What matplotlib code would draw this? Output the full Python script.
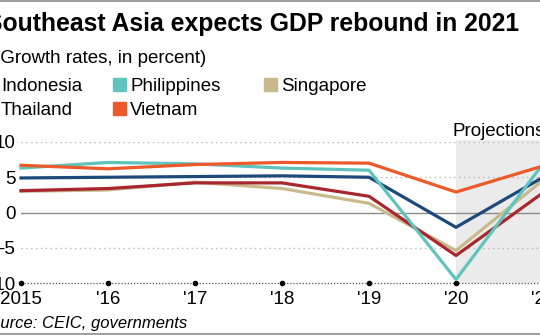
import numpy as np
import matplotlib.pyplot as plt
from matplotlib.patches import Rectangle
from matplotlib.lines import Line2D

plt.rcParams['font.family'] = ['Liberation Sans', 'DejaVu Sans']

# data (GDP growth, percent)
years = [2015, 2016, 2017, 2018, 2019, 2020, 2021]
year_labels = ['2015', "'16", "'17", "'18", "'19", "'20", "'21"]
indonesia = [4.9, 5.0, 5.1, 5.2, 5.0, -2.1, 5.0]
philippines = [6.3, 7.1, 6.9, 6.3, 6.0, -9.5, 6.9]
singapore = [3.0, 3.2, 4.3, 3.4, 1.3, -5.4, 4.6]
thailand = [3.1, 3.4, 4.2, 4.2, 2.3, -6.1, 2.8]
vietnam = [6.7, 6.2, 6.8, 7.1, 7.0, 2.9, 6.6]
yticks = [-10, -5, 0, 5, 10]

c_ind = '#1d4a7a'
c_phi = '#5ec4bc'
c_sin = '#c9ba8e'
c_tha = '#a8272f'
c_vie = '#ec5a2b'

W, H = 540, 335
fig = plt.figure(figsize=(W / 100, H / 100), dpi=100)

def fx(x):
    return x / W

def fy(y):
    return 1 - y / H

# axes placed so 2015 sits at x=21px, 2021 at 543px, +10 at 142px, -10 at 283px
ax = fig.add_axes([fx(21), fy(283), (543 - 21) / W, (283 - 142) / H])
ax.set_xlim(2015, 2021)
ax.set_ylim(-10, 10)
for s in ax.spines.values():
    s.set_visible(False)

# projections shading
ax.add_patch(Rectangle((2020, -10), 1.2, 20.3, color='#ebebeb', lw=0, zorder=0, clip_on=False))

for v in [10, 5, -5]:
    ax.axhline(v, color='#b5b5b5', lw=1, ls=(0, (1, 2.5)), zorder=1)
ax.axhline(0, color='#8a8a8a', lw=1, zorder=1)
ax.axhline(-10, color='#555555', lw=0.9, ls=(0, (1, 1.5)), zorder=1, clip_on=False)
ax.plot(years, [-10] * len(years), 'o', color='black', ms=3, zorder=3, clip_on=False)

lw = 2.3
ax.plot(years, singapore, color=c_sin, lw=lw, zorder=4, clip_on=False)
ax.plot(years, thailand, color=c_tha, lw=lw, zorder=5, clip_on=False)
ax.plot(years, indonesia, color=c_ind, lw=lw, zorder=6, clip_on=False)
ax.plot(years, philippines, color=c_phi, lw=lw, zorder=7, clip_on=False)
ax.plot(years, vietnam, color=c_vie, lw=lw, zorder=8, clip_on=False)

ax.set_xticks(years)
ax.set_xticklabels(year_labels, fontsize=13.5)
ax.set_yticks(yticks)
ax.set_yticklabels([str(v) for v in yticks], fontsize=13.5)
ax.tick_params(length=0, axis='y', pad=4)
ax.tick_params(length=0, axis='x', pad=6)

ax.text(2019.96, 10.9, 'Projections', fontsize=13.5, ha='left', va='baseline')

# header
fig.text(fx(-14), fy(31), 'Southeast Asia expects GDP rebound in 2021',
         fontsize=17.8, fontweight='bold', ha='left', va='baseline')
fig.text(fx(-6), fy(63), '(Growth rates, in percent)', fontsize=13.5, ha='left', va='baseline')

# legend
legend = [('Indonesia', c_ind, -16, 91), ('Philippines', c_phi, 113, 91),
          ('Singapore', c_sin, 264, 91), ('Thailand', c_tha, -16, 115),
          ('Vietnam', c_vie, 113, 115)]
for name, col, x0, base in legend:
    fig.patches.append(Rectangle((fx(x0), fy(base)), 13 / W, 13 / H, color=col,
                                 transform=fig.transFigure, figure=fig))
    fig.text(fx(x0 + 17), fy(base), name, fontsize=13.5, ha='left', va='baseline')

fig.text(fx(-20), fy(328), 'Source: CEIC, governments', fontsize=12, style='italic',
         ha='left', va='baseline')

# frame lines top and bottom
fig.add_artist(Line2D([0, 1], [fy(1), fy(1)], color='#8c8c8c', lw=1.2, transform=fig.transFigure))
fig.add_artist(Line2D([0, 1], [fy(333.5), fy(333.5)], color='#8c8c8c', lw=1.2, transform=fig.transFigure))

fig.savefig('out.png', dpi=100)
